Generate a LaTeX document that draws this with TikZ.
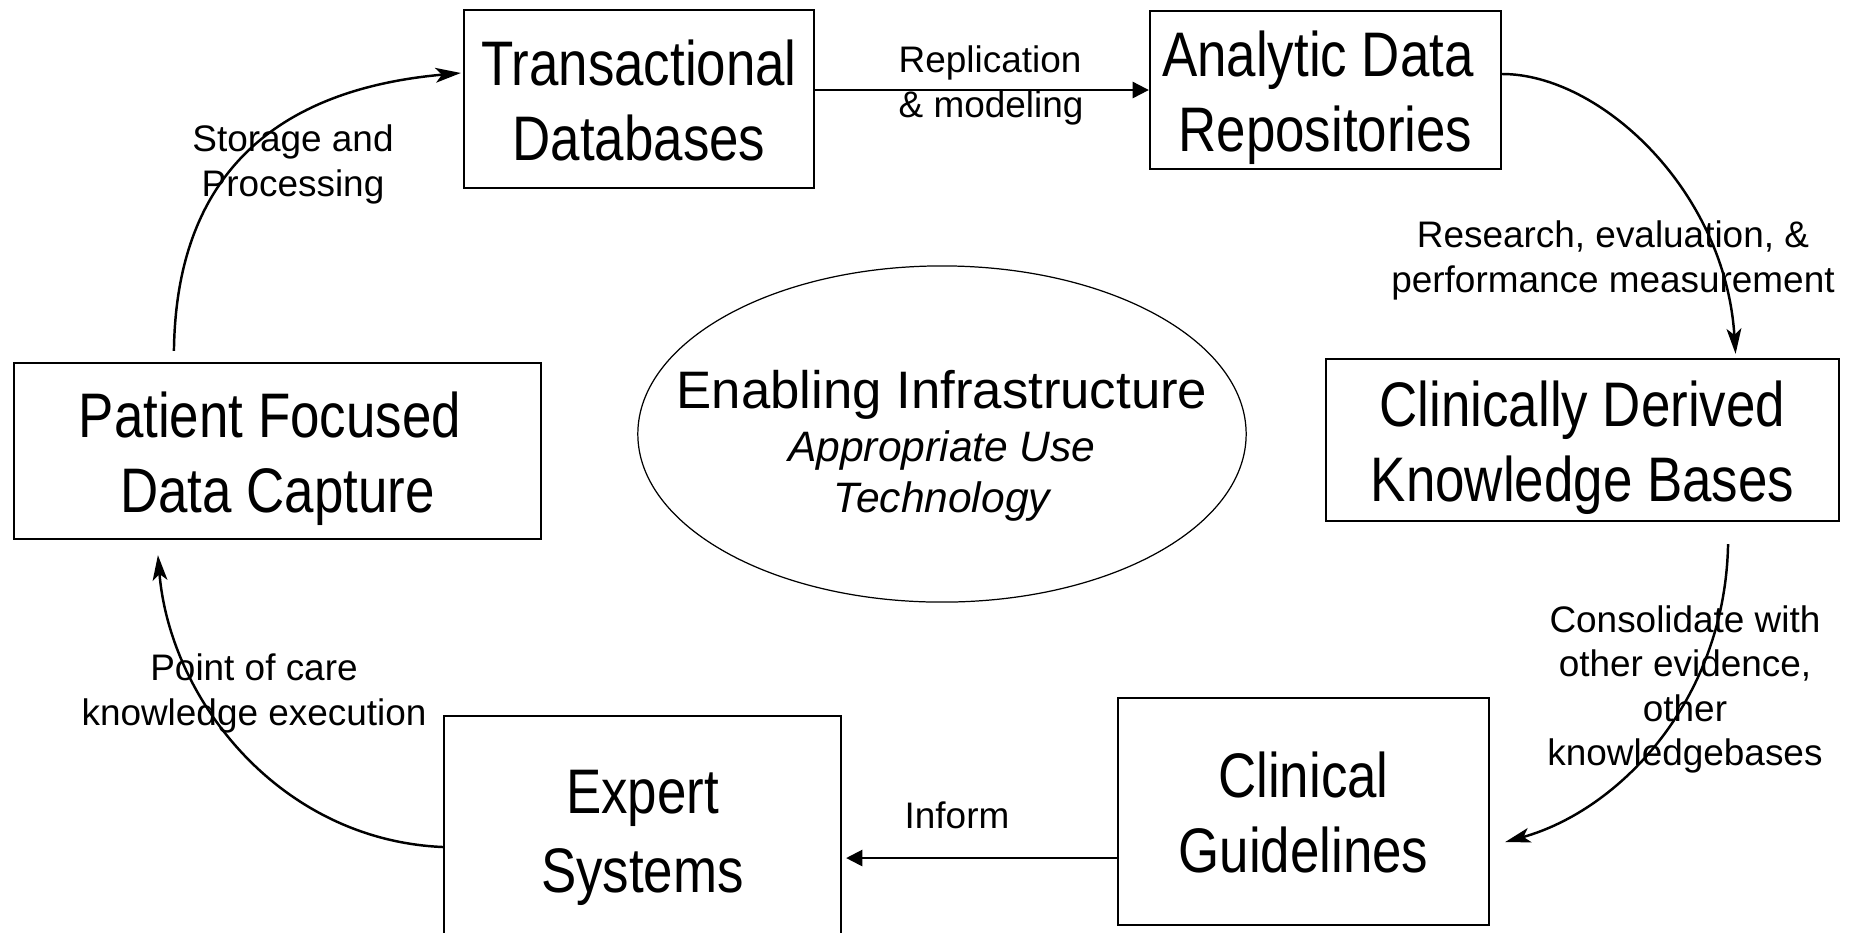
\documentclass[tikz,border=0pt]{standalone}
\usepackage{fontspec}
\setmainfont{Liberation Sans}
\newfontfamily\narrowfont{Liberation Sans}[FakeStretch=0.84]
\usetikzlibrary{arrows.meta,shapes.geometric}
% fixed line extents so every box text is centred the same way
\newcommand\firstrowstrut{\rule{0pt}{17.9pt}}
\newcommand\lastrowstrut{\rule[-4.5pt]{0pt}{4.5pt}}
% invisible trailing space kept at the end of a line
\newcommand\trailspace{\rule{0.24em}{0pt}}
\begin{document}
\begin{tikzpicture}[x=0.01cm, y=-0.01cm,
  box/.style={draw, line width=0.6pt, inner sep=0pt, align=center,
    font=\narrowfont\fontsize{17.9}{21.3}\selectfont},
  lbl/.style={align=center, inner sep=0pt, font=\fontsize{10.5}{12.6}\selectfont},
  flow/.style={line width=0.7pt, -{Stealth[length=7.2pt,width=4.2pt,inset=1.8pt]}},
  link/.style={line width=0.6pt, -{Triangle[length=4.6pt,width=4.6pt]}},
  infotext/.style={anchor=base, inner sep=0pt}
]
\useasboundingbox (0,0) rectangle (1853,932);
\clip (0,0) rectangle (1853,932);

% the six stages of the cycle
\node[box, minimum width=3.5cm,  minimum height=1.78cm] (trans)   at (639,99)
  {\firstrowstrut Transactional\\Databases\lastrowstrut};
\node[box, minimum width=3.51cm, minimum height=1.58cm] (anal)    at (1325.5,90)
  {\firstrowstrut Analytic Data\trailspace\\Repositories\lastrowstrut};
\node[box, minimum width=5.13cm, minimum height=1.62cm] (cdkb)    at (1582.5,440)
  {\firstrowstrut Clinically Derived\\Knowledge Bases\lastrowstrut};
\node[box, minimum width=3.71cm, minimum height=2.27cm] (guide)   at (1303.5,811.5)
  {\firstrowstrut Clinical\\Guidelines\lastrowstrut};
\node[box, minimum width=3.97cm, minimum height=2.26cm,
  font=\narrowfont\fontsize{17.9}{22.5}\selectfont] (expert)  at (642.5,829)
  {\firstrowstrut Expert\\Systems\lastrowstrut};
\node[box, minimum width=5.27cm, minimum height=1.76cm] (patient) at (277.5,451)
  {\firstrowstrut Patient Focused\trailspace\\Data Capture\lastrowstrut};

% central ellipse
\node[ellipse, draw, line width=0.35pt, minimum width=6.08cm, minimum height=3.36cm, inner sep=0pt] (infra) at (942,434) {};
\node[infotext, font=\fontsize{15}{18}\selectfont] (infra1) at (942,408) {Enabling Infrastructure};
\node[infotext, font=\itshape\fontsize{12.1}{14.5}\selectfont] (infra2) at (942,461) {Appropriate Use};
\node[infotext, font=\itshape\fontsize{12.1}{14.5}\selectfont] (infra3) at (942,512) {Technology};

% connectors
\draw[link] (trans.east |- anal.west) -- (anal.west);
\draw[flow] ([yshift=0.16cm]anal.east) .. controls (1600,74) and (1725,190) .. ([xshift=1.53cm,yshift=0.04cm]cdkb.north);
\draw[flow] ([xshift=1.455cm,yshift=-0.22cm]cdkb.south) .. controls (1725,700) and (1620,810) .. ([xshift=0.15cm,yshift=-0.305cm]guide.east);
\coordinate (informsrc) at ([yshift=-0.465cm]guide.west);
\draw[link, shorten >=0.04cm] (informsrc) -- (expert.east |- informsrc);
\draw[flow] ([yshift=-0.18cm]expert.west) .. controls (280,840) and (170,700) .. ([xshift=-1.195cm,yshift=-0.15cm]patient.south);
\draw[flow] ([xshift=-1.035cm,yshift=0.11cm]patient.north) .. controls (176,180) and (270,90) .. ([xshift=-0.02cm,yshift=0.26cm]trans.west);

% connector labels
\node[lbl, align=left, anchor=west] (repl) at (898,85.5) {Replication\\\& modeling};
\node[lbl] (research) at (1613,260.5) {Research, evaluation, \&\\performance measurement};
\node[lbl] (consol) at (1685,689.5) {Consolidate with\\other evidence,\\other\\knowledgebases};
\node[lbl] (inform) at (957,815.5) {Inform};
\node[lbl] (poc) at (254,693.5) {Point of care\\knowledge execution};
\node[lbl] (storage) at (293,164.5) {Storage and\\Processing};
\end{tikzpicture}
\end{document}
